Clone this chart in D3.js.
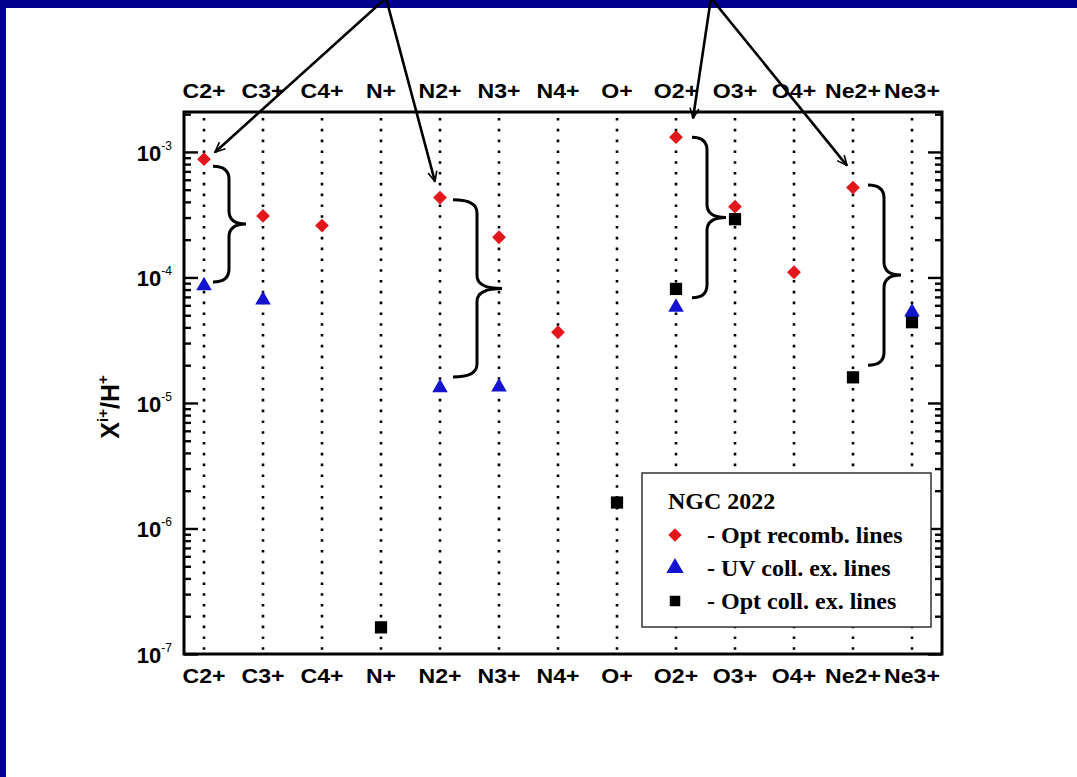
<!DOCTYPE html>
<html>
<head>
<meta charset="utf-8">
<script src="https://cdn.jsdelivr.net/npm/d3@7"></script>
<style>
  body { margin: 0; background: #fff; }
  svg { display: block; }
</style>
</head>
<body>
<div id="chart_area"></div>
<script>
// Ion categories (top and bottom axis labels)
var categories = ["C2+", "C3+", "C4+", "N+", "N2+", "N3+", "N4+", "O+", "O2+", "O3+", "O4+", "Ne2+", "Ne3+"];

// X(i+)/H+ abundances, null = no point
var recombLines  = [8.75e-4, 3.09e-4, 2.59e-4, null, 4.33e-4, 2.09e-4, 3.66e-5, null, 1.31e-3, 3.66e-4, 1.10e-4, 5.2e-4, null];
var uvCollLines  = [8.6e-5, 6.6e-5, null, null, 1.32e-5, 1.34e-5, null, null, 5.8e-5, null, null, null, 5.3e-5];
var optCollLines = [null, null, null, 1.63e-7, null, null, null, 1.61e-6, 8.1e-5, 2.91e-4, null, 1.6e-5, 4.4e-5];

// y axis
var majorTicks = [1e-7, 1e-6, 1e-5, 1e-4, 1e-3];
var tickExponents = ["-7", "-6", "-5", "-4", "-3"];

// braces: category, top value, bottom value
var braceCats   = ["C2+", "N2+", "O2+", "Ne2+"];
var braceTops   = [7.7e-4, 4.15e-4, 1.31e-3, 5.46e-4];
var braceBottom = [9.2e-5, 1.61e-5, 6.9e-5, 2.0e-5];

// arrows point at these recombination points
var arrowCats = ["C2+", "N2+", "O2+", "Ne2+"];

var legendTitle = "NGC 2022";
var legendLabels = ["- Opt recomb. lines", "- UV coll. ex. lines", "- Opt coll. ex. lines"];

var margin = {top: 112, right: 135, bottom: 123, left: 184},
    width = 1077 - margin.left - margin.right,
    height = 777 - margin.top - margin.bottom;

var red = "#e3161c", blue = "#1313d0";

var x = d3.scalePoint()
    .domain(categories)
    .range([20, width - 30]);

var y = d3.scaleLog()
    .domain([1e-7, 2.08e-3])
    .range([height, 0]);

var svg = d3.select("#chart_area").append("svg")
    .attr("width", 1077)
    .attr("height", 777);

// slide background border
svg.append("rect").attr("x", 0).attr("y", 0).attr("width", 1077).attr("height", 777).attr("fill", "#fff");
svg.append("rect").attr("x", 0).attr("y", 0).attr("width", 1077).attr("height", 8).attr("fill", "#00008f");
svg.append("rect").attr("x", 0).attr("y", 0).attr("width", 6).attr("height", 777).attr("fill", "#00008f");

var defs = svg.append("defs");
defs.append("marker")
    .attr("id", "arrowhead")
    .attr("viewBox", "0 0 12 12")
    .attr("refX", 11).attr("refY", 6)
    .attr("markerWidth", 12).attr("markerHeight", 12)
    .attr("markerUnits", "userSpaceOnUse")
    .attr("orient", "auto")
  .append("path")
    .attr("d", "M1,1.5 L11,6 L1,10.5")
    .attr("fill", "none")
    .attr("stroke", "#000")
    .attr("stroke-width", 1.6);

var g = svg.append("g")
    .attr("transform", "translate(" + margin.left + "," + margin.top + ")");

// dotted vertical lines
g.selectAll(".vline")
    .data(categories)
    .enter().append("line")
    .attr("class", "vline")
    .attr("x1", function(d) { return x(d); })
    .attr("x2", function(d) { return x(d); })
    .attr("y1", 6)
    .attr("y2", height)
    .attr("stroke", "#000")
    .attr("stroke-width", 2.6)
    .attr("stroke-dasharray", "2.6,8.2");

// minor + major tick values
var allTicks = [];
majorTicks.forEach(function(t) {
  for (var m = 1; m <= 9; m++) {
    var v = t * m;
    if (v <= y.domain()[1]) allTicks.push(v);
  }
});

function styleTicks(sel, dir) {
  sel.select(".domain").remove();
  sel.selectAll(".tick line")
      .attr("stroke-width", 2.4)
      .attr("x2", function(d) {
        var isMajor = majorTicks.some(function(t) { return Math.abs(t - d) / t < 1e-6; });
        return dir * (isMajor ? 14 : 7);
      });
}

g.append("g")
    .call(d3.axisRight(y).tickValues(allTicks).tickFormat("").tickSizeOuter(0))
    .call(styleTicks, 1);

g.append("g")
    .attr("transform", "translate(" + width + ",0)")
    .call(d3.axisLeft(y).tickValues(allTicks).tickFormat("").tickSizeOuter(0))
    .call(styleTicks, -1);

// frame
g.append("rect")
    .attr("x", 0).attr("y", 0)
    .attr("width", width).attr("height", height)
    .attr("fill", "none")
    .attr("stroke", "#000")
    .attr("stroke-width", 3);

// y tick labels 10^n
var yLabels = g.selectAll(".ylab")
    .data(majorTicks)
    .enter().append("text")
    .attr("class", "ylab")
    .attr("x", -12)
    .attr("y", function(d) { return y(d) + 9; })
    .attr("text-anchor", "end")
    .attr("font-family", "Liberation Sans, Arial, sans-serif")
    .attr("font-weight", "bold")
    .attr("font-size", 22);
yLabels.append("tspan").text("10");
yLabels.append("tspan")
    .attr("dy", -11)
    .attr("font-size", 12)
    .attr("font-weight", "normal")
    .text(function(d, i) { return tickExponents[i]; });

// category labels top + bottom
[-14, height + 29].forEach(function(yy) {
  g.selectAll(null)
      .data(categories)
      .enter().append("text")
      .attr("x", function(d) { return x(d); })
      .attr("y", yy)
      .attr("text-anchor", "middle")
      .attr("font-family", "Liberation Sans, Arial, sans-serif")
      .attr("font-weight", "bold")
      .attr("font-size", 21)
      .attr("transform", function(d) { return "translate(" + x(d) + ",0) scale(1.1,1) translate(" + (-x(d)) + ",0)"; })
      .text(function(d) { return d; });
});

// y axis title
var yTitle = svg.append("text")
    .attr("transform", "translate(119,407) rotate(-90)")
    .attr("text-anchor", "middle")
    .attr("font-family", "Liberation Sans, Arial, sans-serif")
    .attr("font-weight", "bold")
    .attr("font-size", 25);
yTitle.append("tspan").text("X");
yTitle.append("tspan").attr("dy", -11).attr("font-size", 15).text("i+");
yTitle.append("tspan").attr("dy", 11).text("/H");
yTitle.append("tspan").attr("dy", -11).attr("font-size", 15).text("+");

// braces
function bracePath(x0, x1, x2, yTop, yBot) {
  var yMid = (yTop + yBot) / 2, r = 13;
  return "M" + x0 + "," + yTop +
    " Q" + x1 + "," + yTop + " " + x1 + "," + (yTop + r) +
    " L" + x1 + "," + (yMid - r) +
    " Q" + x1 + "," + yMid + " " + x2 + "," + yMid +
    " Q" + x1 + "," + yMid + " " + x1 + "," + (yMid + r) +
    " L" + x1 + "," + (yBot - r) +
    " Q" + x1 + "," + yBot + " " + x0 + "," + yBot;
}
var braceShape = {"C2+": [9, 25, 42], "N2+": [13, 37, 62], "O2+": [16, 31, 50], "Ne2+": [15, 31, 48]};
g.selectAll(".brace")
    .data(braceCats)
    .enter().append("path")
    .attr("class", "brace")
    .attr("d", function(d, i) {
      var cx = x(d), s = braceShape[d];
      return bracePath(cx + s[0], cx + s[1], cx + s[2], y(braceTops[i]), y(braceBottom[i]));
    })
    .attr("fill", "none")
    .attr("stroke", "#000")
    .attr("stroke-width", 3);

// arrows from the top of the slide
var arrowFrom = {"C2+": 386, "N2+": 386, "O2+": 711, "Ne2+": 711};
var arrowOffset = {"C2+": [11, -7], "N2+": [-5, -16], "O2+": [17, -19], "Ne2+": [-6, -22]};
svg.selectAll(".arrow")
    .data(arrowCats)
    .enter().append("line")
    .attr("class", "arrow")
    .attr("x1", function(d) { return arrowFrom[d]; })
    .attr("y1", -2)
    .attr("x2", function(d) { return margin.left + x(d) + arrowOffset[d][0]; })
    .attr("y2", function(d) { return margin.top + y(recombLines[categories.indexOf(d)]) + arrowOffset[d][1]; })
    .attr("stroke", "#000")
    .attr("stroke-width", 2.6)
    .attr("marker-end", "url(#arrowhead)");

// points
var diamond = d3.symbol().type(d3.symbolSquare).size(95);
var triangle = d3.symbol().type(d3.symbolTriangle).size(105);
var square = d3.symbol().type(d3.symbolSquare).size(150);

function drawSeries(values, sym, color, rot) {
  g.selectAll(null)
      .data(categories.map(function(c, i) { return {cat: c, v: values[i]}; })
                      .filter(function(d) { return d.v != null; }))
      .enter().append("path")
      .attr("d", sym)
      .attr("fill", color)
      .attr("transform", function(d) {
        return "translate(" + x(d.cat) + "," + y(d.v) + ")" + (rot ? " rotate(45)" : "");
      });
}
drawSeries(optCollLines, square, "#000", false);
drawSeries(uvCollLines, triangle, blue, false);
drawSeries(recombLines, diamond, red, true);

// legend
var legend = svg.append("g").attr("transform", "translate(642,473)");
legend.append("rect")
    .attr("width", 289).attr("height", 154)
    .attr("fill", "#fff")
    .attr("stroke", "#333")
    .attr("stroke-width", 1.5);
legend.append("text")
    .attr("x", 26).attr("y", 36)
    .attr("font-family", "Liberation Serif, Times New Roman, serif")
    .attr("font-weight", "bold")
    .attr("font-size", 24)
    .text(legendTitle);
var legendSyms = [
  {sym: d3.symbol().type(d3.symbolSquare).size(90), color: red, rot: true},
  {sym: d3.symbol().type(d3.symbolTriangle).size(130), color: blue, rot: false},
  {sym: d3.symbol().type(d3.symbolSquare).size(110), color: "#000", rot: false}
];
legendLabels.forEach(function(lab, i) {
  var ly = 62 + i * 33;
  legend.append("path")
      .attr("d", legendSyms[i].sym)
      .attr("fill", legendSyms[i].color)
      .attr("transform", "translate(33," + ly + ")" + (legendSyms[i].rot ? " rotate(45)" : ""));
  legend.append("text")
      .attr("x", 65).attr("y", ly + 8)
      .attr("font-family", "Liberation Serif, Times New Roman, serif")
      .attr("font-weight", "bold")
      .attr("font-size", 24)
      .text(lab);
});
</script>
</body>
</html>
